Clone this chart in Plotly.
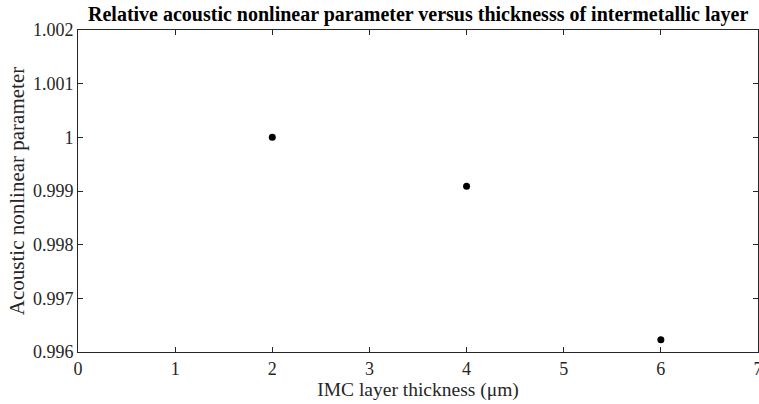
import plotly.graph_objects as go

thickness = [2, 4, 6]
nonlinear_param = [1.0, 0.99909, 0.99623]

x_ticks = [0, 1, 2, 3, 4, 5, 6, 7]
y_ticks = [0.996, 0.997, 0.998, 0.999, 1.0, 1.001, 1.002]
y_tick_text = ["0.996", "0.997", "0.998", "0.999", "1", "1.001", "1.002"]

title_text = "<b>Relative acoustic nonlinear parameter versus thicknesss of intermetallic layer</b>"

font = "Liberation Serif"

fig = go.Figure()
fig.add_trace(go.Scatter(
    x=thickness, y=nonlinear_param, mode="markers",
    marker=dict(color="black", size=7), showlegend=False,
))

axis_common = dict(
    showgrid=False, zeroline=False, showline=True, linecolor="#262626", linewidth=1,
    mirror="ticks", ticks="inside", ticklen=5, tickcolor="#262626", automargin=False,
    tickfont=dict(family=font, size=18, color="#262626"), ticklabeloverflow="allow",
)

fig.update_layout(
    width=759, height=404, autosize=False,
    margin=dict(l=78, r=1, t=30, b=52),
    paper_bgcolor="white", plot_bgcolor="white",
    font=dict(family=font, size=18, color="#262626"),
    xaxis=dict(range=[0, 7], tickvals=x_ticks,
               title=dict(text="IMC layer thickness (μm)", font=dict(family=font, size=19.5, color="#262626"), standoff=0),
               **axis_common),
    yaxis=dict(range=[0.996, 1.002], tickvals=y_ticks, ticktext=y_tick_text,
               title=dict(text="Acoustic nonlinear parameter", font=dict(family=font, size=21, color="#262626"), standoff=2),
               **axis_common),
)

fig.add_annotation(
    text=title_text, xref="paper", yref="paper", x=0.5, y=1, xanchor="center", yanchor="bottom",
    yshift=2, showarrow=False, font=dict(family=font, size=20, color="black"),
)

fig.write_html(
    "out.html",
    config={"responsive": False, "displayModeBar": False},
    post_script="document.body.style.margin='0';document.body.style.overflow='hidden';",
)
